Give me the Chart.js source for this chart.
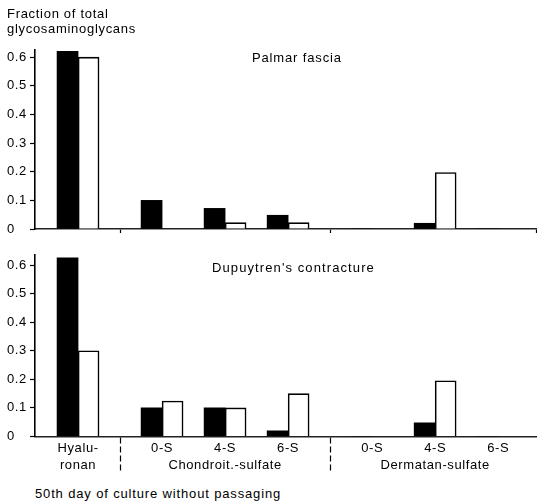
<!DOCTYPE html>
<html><head><meta charset="utf-8">
<script src="https://cdn.jsdelivr.net/npm/chart.js@4"></script>
<style>
html,body{margin:0;padding:0;background:#fff;}
#wrap{position:relative;width:537px;height:504px;overflow:hidden;font-family:"Liberation Sans",Arial,sans-serif;font-size:13px;color:#000;}
.t{position:absolute;white-space:nowrap;line-height:15px;z-index:2;}
canvas{position:absolute;left:0;z-index:1;}
</style></head><body>
<div id="wrap">
 <canvas id="topChart" width="537" height="240" style="top:0"></canvas>
 <canvas id="botChart" width="537" height="240" style="top:240px"></canvas>
 <div class="t" style="left:7px;top:6px;letter-spacing:0.7px">Fraction of total<br>glycosaminoglycans</div>
 <div class="t" style="left:252px;top:50px;letter-spacing:0.85px">Palmar fascia</div>
 <div class="t" style="left:212px;top:260px;letter-spacing:1.1px">Dupuytren's contracture</div>
 <div class="t" style="left:35px;top:486px;letter-spacing:0.85px">50th day of culture without passaging</div>
</div>
<script>
// ---- data ----
const groups = ['', 'Chondroit.-sulfate', 'Dermatan-sulfate'];
const categories = ['Hyalu-|ronan', '0-S', '4-S', '6-S', '0-S', '4-S', '6-S'];
const categoryGroup = [0, 1, 1, 1, 2, 2, 2];
const yTicks = [0, 0.1, 0.2, 0.3, 0.4, 0.5, 0.6];
const palmarFilled = [0.62, 0.10, 0.072, 0.048, 0, 0.02, 0];
const palmarOpen   = [0.60, 0, 0.022, 0.022, 0, 0.197, 0];
const dupuytrenFilled = [0.625, 0.10, 0.10, 0.02, 0, 0.048, 0];
const dupuytrenOpen   = [0.30, 0.124, 0.10, 0.15, 0, 0.195, 0];

// ---- layout derived from the group structure ----
const slots = []; let s = 0;
categories.forEach((c, i) => {
  if (i > 0) { s += 3; if (categoryGroup[i] !== categoryGroup[i - 1]) s += 1; }
  slots.push(s);
});
const dividers = [];
for (let i = 1; i < slots.length; i++) if (categoryGroup[i] !== categoryGroup[i - 1]) dividers.push((slots[i] + slots[i - 1]) / 2);
const xMin = slots[0] - 2.05, xMax = slots[slots.length - 1] + 1.8;
const near = (a, b) => Math.abs(a - b) < 1e-6;

const labelFor = v => {
  const i = slots.findIndex(q => near(q, v));
  if (i < 0) return '';
  const lines = categories[i].split('|');
  const g = categoryGroup[i];
  const members = categoryGroup.map((gg, k) => gg === g ? k : -1).filter(k => k >= 0);
  if (groups[g] && members[Math.floor(members.length / 2)] === i) lines.push(groups[g]);
  return lines.length > 1 ? lines : lines[0];
};

Chart.defaults.font.family = '"Liberation Sans", Arial, sans-serif';
Chart.defaults.font.size = 13;
Chart.defaults.color = '#000';

const spacing = {
  id: 'spacing',
  beforeLayout(c) { c.ctx.letterSpacing = '0.6px'; },
  beforeDraw(c) { c.ctx.letterSpacing = '0.6px'; }
};

function makeChart(id, filled, open, yMax, padTop, padBottom, bottomPanel) {
  const xTicks = bottomPanel ? [...slots, ...dividers].sort((a, b) => a - b) : [...dividers, xMax];
  return new Chart(document.getElementById(id), {
    type: 'bar',
    data: { datasets: [
      { label: 'filled', data: slots.map((x, i) => ({ x, y: filled[i] })), backgroundColor: '#000', borderWidth: 0, barThickness: 21 },
      { label: 'open', data: slots.map((x, i) => ({ x, y: open[i] })), backgroundColor: '#fff', borderColor: '#000',
        borderWidth: { top: 1.6, left: 1.6, right: 1.6, bottom: 0 }, borderSkipped: 'bottom', barThickness: 21 }
    ] },
    plugins: [spacing],
    options: {
      responsive: false, animation: false, events: [],
      layout: { padding: { top: padTop, bottom: padBottom, left: 7, right: 1 } },
      plugins: { legend: { display: false }, tooltip: { enabled: false } },
      scales: {
        x: {
          type: 'linear', min: xMin, max: xMax, offset: false,
          afterBuildTicks: ax => { ax.ticks = xTicks.map(v => ({ value: v })); },
          ticks: { display: bottomPanel, autoSkip: false, maxRotation: 0, minRotation: 0,
            padding: bottomPanel ? -31.3 : 0, font: { size: 13, lineHeight: 1.35 }, color: '#000',
            callback: v => labelFor(v) },
          grid: { offset: false, drawOnChartArea: false, drawTicks: true, tickLength: bottomPanel ? 34 : 4,
            tickWidth: 1.2,
            tickColor: ctx => {
              const v = ctx.tick ? ctx.tick.value : NaN;
              return (dividers.some(d => near(d, v)) || near(v, xMax)) ? '#000' : 'rgba(0,0,0,0)';
            },
            tickBorderDash: bottomPanel ? [6, 3] : [] },
          border: { display: true, color: '#222', width: 1.6 },
          afterFit: ax => { ax.height = bottomPanel ? 34 : 6; }
        },
        y: {
          min: 0, max: yMax,
          afterBuildTicks: ax => { ax.ticks = yTicks.map(v => ({ value: v })); },
          ticks: { crossAlign: 'far', color: '#000', font: { size: 13 }, callback: v => String(v) },
          grid: { drawOnChartArea: false, drawTicks: true, tickLength: 5, tickColor: '#000', tickWidth: 1.2 },
          border: { display: true, color: '#000', width: 1.6 },
          afterFit: ax => { ax.width = 28; }
        }
      }
    }
  });
}

makeChart('topChart', palmarFilled, palmarOpen, 0.625, 50, 5, false);
makeChart('botChart', dupuytrenFilled, dupuytrenOpen, 0.635, 15, 9.5, true);
</script>
</body></html>
